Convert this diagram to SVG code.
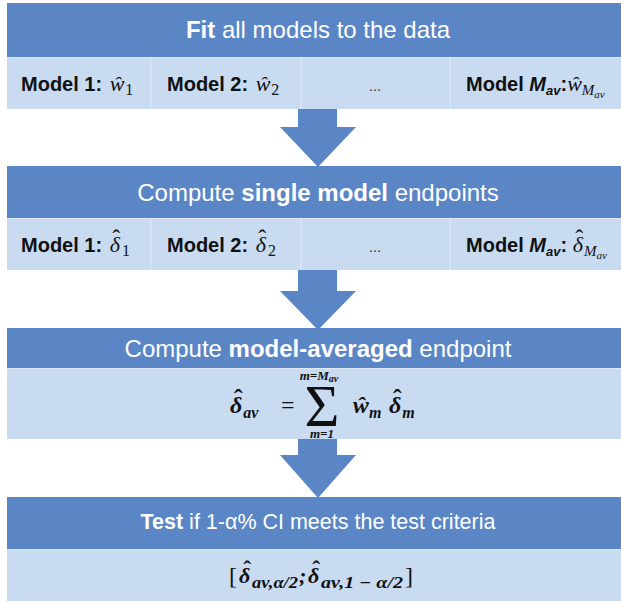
<svg xmlns="http://www.w3.org/2000/svg" width="621" height="602" viewBox="0 0 621 602">
  <style>
    .hdr { fill: #5A86C6; }
    .band { fill: #C8DBF1; }
    .sep { stroke: #D8E6F6; stroke-width: 1.5; }
    .edge { stroke: #DDE8F6; stroke-width: 1; }
    .arrow { fill: #5A86C6; }
    .ht { font-family: "Liberation Sans", Arial, sans-serif; font-size: 24px; fill: #FFFFFF; text-anchor: middle; }
    .ht.small { font-size: 21.5px; }
    .b { font-weight: bold; }
    .cell { font-family: "Liberation Sans", Arial, sans-serif; font-size: 20px; font-weight: bold; fill: #111111; }
    .dots { font-family: "Liberation Sans", Arial, sans-serif; font-size: 15px; fill: #333333; text-anchor: middle; }
    .mi { font-family: "Liberation Serif", "Times New Roman", serif; font-style: italic; font-weight: normal; }
    .mb { font-family: "Liberation Serif", "Times New Roman", serif; font-style: italic; font-weight: bold; fill: #111111; }
    .mr { font-family: "Liberation Serif", "Times New Roman", serif; font-style: normal; font-weight: normal; fill: #111111; }
    .up { font-style: normal; }
  </style>

  <rect x="0" y="0" width="621" height="602" fill="#FFFFFF"/>

  <!-- Step 1: fit models -->
  <g id="fit">
    <rect class="hdr" x="7" y="3" width="614" height="54"/>
    <text class="ht" x="318" y="38"><tspan class="b">Fit</tspan> all models to the data</text>
    <rect class="band" x="7" y="57" width="614" height="52"/>
    <line class="edge" x1="7" y1="57.5" x2="621" y2="57.5"/>
    <line class="sep" x1="151" y1="58" x2="151" y2="109"/>
    <line class="sep" x1="301" y1="58" x2="301" y2="109"/>
    <line class="sep" x1="450" y1="58" x2="450" y2="109"/>
    <text class="cell" x="21" y="91">Model 1: <tspan class="mi" font-size="22" dx="2">ŵ</tspan><tspan class="mr" font-size="16" dx="1" dy="4">1</tspan></text>
    <text class="cell" x="167" y="91">Model 2: <tspan class="mi" font-size="22" dx="2">ŵ</tspan><tspan class="mr" font-size="16" dx="1" dy="4">2</tspan></text>
    <text class="dots" x="375" y="91">...</text>
    <text class="cell" x="466" y="91">Model <tspan font-style="italic">M</tspan><tspan font-style="italic" font-size="13" dy="4">av</tspan><tspan dy="-4">:</tspan><tspan class="mi" font-size="22">ŵ</tspan><tspan class="mi" font-size="15" dy="4">M</tspan><tspan class="mi" font-size="11" dy="3">av</tspan></text>
  </g>

  <!-- Step 2: single model endpoints (hat accent set over each delta) -->
  <g id="single">
    <rect class="hdr" x="7" y="166" width="614" height="52"/>
    <text class="ht" x="318" y="201">Compute <tspan class="b">single model</tspan> endpoints</text>
    <rect class="band" x="7" y="218" width="614" height="52"/>
    <line class="edge" x1="7" y1="218.5" x2="621" y2="218.5"/>
    <line class="sep" x1="151" y1="219" x2="151" y2="270"/>
    <line class="sep" x1="301" y1="219" x2="301" y2="270"/>
    <line class="sep" x1="450" y1="219" x2="450" y2="270"/>
    <text class="cell" x="21" y="252">Model 1: <tspan class="mi" font-size="22" dx="2">δ</tspan><tspan class="mr" font-size="24" dx="-7.7" dy="-6">ˆ</tspan><tspan class="mr" font-size="16" dx="1.7" dy="10">1</tspan></text>
    <text class="cell" x="167" y="252">Model 2: <tspan class="mi" font-size="22" dx="2">δ</tspan><tspan class="mr" font-size="24" dx="-7.7" dy="-6">ˆ</tspan><tspan class="mr" font-size="16" dx="1.7" dy="10">2</tspan></text>
    <text class="dots" x="375" y="252">...</text>
    <text class="cell" x="466" y="252">Model <tspan font-style="italic">M</tspan><tspan font-style="italic" font-size="13" dy="4">av</tspan><tspan dy="-4">: </tspan><tspan class="mi" font-size="22">δ</tspan><tspan class="mr" font-size="24" dx="-7.7" dy="-6">ˆ</tspan><tspan class="mi" font-size="15" dx="0.7" dy="10">M</tspan><tspan class="mi" font-size="11" dy="3">av</tspan></text>
  </g>

  <!-- Step 3: model-averaged endpoint -->
  <g id="averaged">
    <rect class="hdr" x="7" y="328" width="614" height="40"/>
    <text class="ht" x="318" y="357">Compute <tspan class="b">model-averaged</tspan> endpoint</text>
    <rect class="band" x="7" y="368" width="614" height="71"/>
    <line class="edge" x1="7" y1="368.5" x2="621" y2="368.5"/>
    <text class="mb" font-size="24" x="230" y="413">δ<tspan class="up" font-size="26" dx="-8.3" dy="-6">ˆ</tspan><tspan font-size="16" dx="0.7" dy="11">av</tspan></text>
    <text class="mr" font-size="24" x="281" y="413">=</text>
    <text class="mr"><tspan font-size="60" x="322" y="426" text-anchor="middle">Σ</tspan><tspan class="mb" font-size="13" x="319" y="380" text-anchor="middle">m=M<tspan font-size="10" dy="2">av</tspan></tspan><tspan class="mb" font-size="13" x="322" y="438" text-anchor="middle">m=1</tspan></text>
    <text class="mb" font-size="24" x="353" y="413">ŵ<tspan font-size="16" dy="5">m</tspan></text>
    <text class="mb" font-size="24" x="389" y="413">δ<tspan class="up" font-size="26" dx="-8.3" dy="-6">ˆ</tspan><tspan font-size="16" dx="0.7" dy="11">m</tspan></text>
  </g>

  <!-- Step 4: confidence interval test -->
  <g id="test">
    <rect class="hdr" x="7" y="497" width="614" height="52"/>
    <text class="ht small" x="318" y="529"><tspan class="b">Test</tspan> if 1-α% CI meets the test criteria</text>
    <rect class="band" x="7" y="549" width="614" height="52"/>
    <line class="edge" x1="7" y1="549.5" x2="621" y2="549.5"/>
    <text class="mr" font-size="24" x="229" y="584">[</text>
    <text class="mb" font-size="22" x="239" y="583">δ<tspan class="up" font-size="24" dx="-7" dy="-6">ˆ</tspan></text>
    <text class="mb" font-size="16" x="252" y="588" textLength="46" lengthAdjust="spacingAndGlyphs">av,α/2</text>
    <text class="mb" font-size="22" x="299" y="583">;</text>
    <text class="mb" font-size="22" x="308" y="583">δ<tspan class="up" font-size="24" dx="-7" dy="-6">ˆ</tspan></text>
    <text class="mb" font-size="16" x="321" y="588" textLength="82" lengthAdjust="spacingAndGlyphs">av,1 − α/2</text>
    <text class="mr" font-size="24" x="405" y="584">]</text>
  </g>

  <!-- Flow arrows between steps -->
  <g id="connectors">
    <polygon class="arrow" points="298,109 337,109 337,127 356,127 318,167 280,127 298,127"/>
    <polygon class="arrow" points="298,270 337,270 337,291 356,291 318,330 280,291 298,291"/>
    <polygon class="arrow" points="298,439 337,439 337,455 356,455 318,498 280,455 298,455"/>
  </g>
</svg>
